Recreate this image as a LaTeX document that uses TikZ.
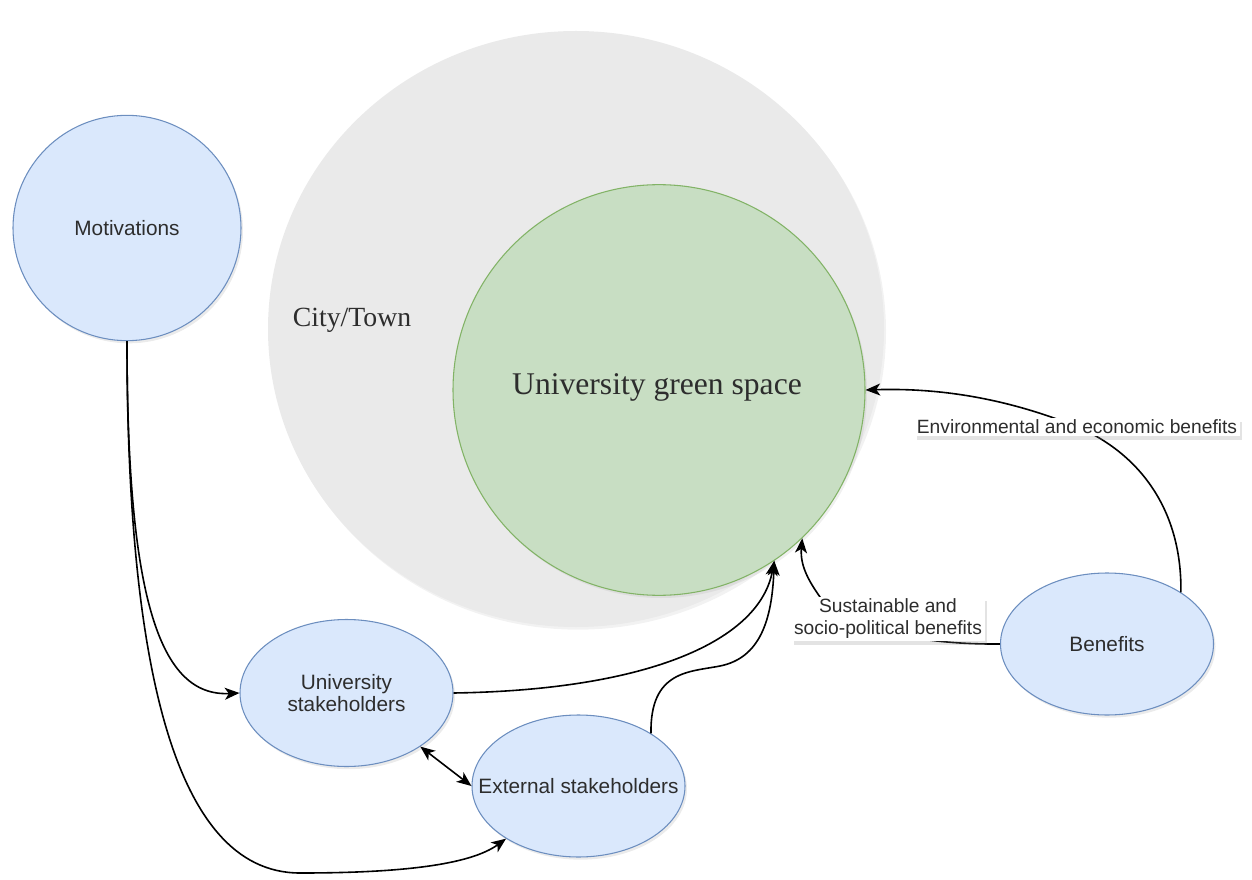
\documentclass[tikz,border=0pt]{standalone}
\usepackage{fontspec}
\newfontfamily\sansface{Liberation Sans}
\newfontfamily\serifface{Liberation Serif}
\usetikzlibrary{arrows.meta,shadows,shapes.geometric}

\definecolor{bluefill}{HTML}{DAE8FC}
\definecolor{bluedraw}{HTML}{6C8EBF}
\definecolor{greenfill}{RGB}{200,222,195}
\definecolor{greendraw}{HTML}{82B366}
\definecolor{cityfill}{RGB}{234,234,234}
\definecolor{txt}{RGB}{45,45,45}

\begin{document}
\begin{tikzpicture}[x=0.75pt,y=-0.75pt,
  softshadow/.style={drop shadow={opacity=0.16, shadow xshift=1.5pt, shadow yshift=-2pt}},
  actortext/.style={text=txt, align=center, font=\sansface\fontsize{15.6}{18}\selectfont},
  actor/.style={ellipse, draw=bluedraw, fill=bluefill, line width=0.8pt,
    inner sep=0pt, softshadow},
  region/.style={ellipse, inner sep=0pt},
  tip/.style={Stealth[length=11pt,width=9pt,inset=3pt]},
  conn/.style={draw=black, line width=1.2pt, -{Stealth[length=11pt,width=9pt,inset=3pt]}},
  biconn/.style={draw=black, line width=1.2pt,
    {Stealth[length=11pt,width=9pt,inset=3pt]}-{Stealth[length=11pt,width=9pt,inset=3pt]}},
  elabel/.style={fill=white, text=txt, align=center, inner xsep=2pt, inner ysep=1.5pt,
    font=\sansface\fontsize{14.4}{16.5}\selectfont,
    drop shadow={opacity=0.22, shadow xshift=2pt, shadow yshift=-3pt}}
]
\useasboundingbox (0,0) rectangle (1252,880);

% surrounding city and the campus green space
\node[region, fill=cityfill, minimum width=462pt, minimum height=447pt,
  drop shadow={opacity=0.10, shadow xshift=1.5pt, shadow yshift=-2pt}] (city) at (576,329) {};
\node[text=txt, font=\serifface\fontsize{20.8}{24}\selectfont] (citylbl) at (352,320) {City/Town};
\node[region, draw=greendraw, fill=greenfill, line width=0.8pt, minimum width=309pt, minimum height=308pt,
  drop shadow={opacity=0.12, shadow xshift=1.5pt, shadow yshift=-2pt}] (gs) at (659,390) {};
\node[text=txt, font=\serifface\fontsize{23.7}{28}\selectfont] (gslbl) at (657,387) {University green space};

% actors
\node[actor, minimum width=171pt, minimum height=169pt,
  label={[actortext]center:Motivations}] (mot) at (127,228) {};
\node[actor, minimum width=159.75pt, minimum height=110.25pt,
  label={[actortext]center:University\\[-1.5pt]stakeholders}] (us) at (346.5,693) {};
\node[actor, minimum width=159.75pt, minimum height=106.5pt,
  label={[actortext]center:External stakeholders}] (es) at (578.5,786) {};
\node[actor, minimum width=159.75pt, minimum height=106.5pt,
  label={[actortext]center:Benefits}] (ben) at (1107,644) {};

% connectors
\coordinate (lowturn) at (300,873);
\draw[conn] (mot.south) .. controls (127,600) and (160,697) .. (us.west);
\draw[conn] (mot.south) .. controls (127,650) and (170,873) .. (lowturn)
  .. controls (400,873) and (470,865) .. (es.-144);
\draw[conn] (us.east) .. controls (650,690) and (760,640) .. (gs.-56);
\draw[conn] (es.36) .. controls (650,670) and (690,672) .. (720,666)
  .. controls (760,658) and (772,620) .. (gs.-56);
\draw[biconn] (us.-36) -- (es.west);
\draw[conn] (ben.west) .. controls (900,645) and (830,620) .. (820,597)
  .. controls (808,580) and (800,565) .. (gs.-46);
\draw[conn] (ben.35) .. controls (1182,510) and (1140,455) .. (1080,428)
  .. controls (1000,395) and (930,388) .. (gs.east);

% connector labels
\node[elabel] (susLbl) at (888,619) {Sustainable and\\socio-political benefits};
\node[elabel] (envLbl) at (1077,427) {Environmental and economic benefits};
\end{tikzpicture}
\end{document}
